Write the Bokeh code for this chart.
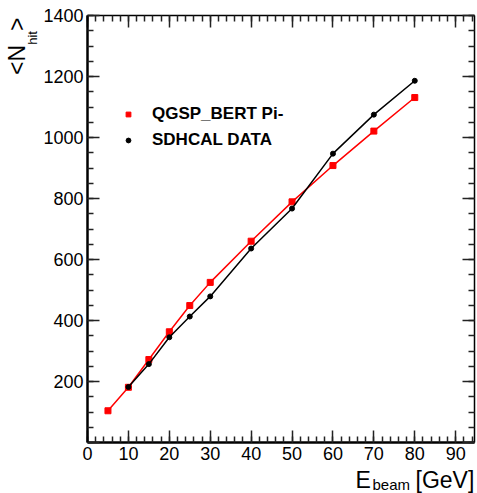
import math
from bokeh.plotting import figure
from bokeh.models import (LinearAxis, SingleIntervalTicker, Range1d, Label,
                          Legend, LegendItem)
from bokeh.embed import file_html
from bokeh.resources import INLINE

# ---- data ----
energy_sim = [5, 10, 15, 20, 25, 30, 40, 50, 60, 70, 80]
nhit_sim = [104, 181, 272, 363, 449, 525, 660, 789, 908, 1021, 1131]
energy_data = [10, 15, 20, 25, 30, 40, 50, 60, 70, 80]
nhit_data = [182, 257, 345, 413, 479, 636, 767, 947, 1075, 1186]
label_sim = "QGSP_BERT Pi-"
label_data = "SDHCAL DATA"
x_lo, x_hi = 0, 94.6
y_lo, y_hi = 0, 1400

FONT = "Liberation Sans"
W, H = 477, 493
# pixel box of the drawing area inside the canvas
BL, BR, BT, BB = 87, 474, 15, 442
sx = (BR - BL) / (x_hi - x_lo)
sy = (BB - BT) / (y_hi - y_lo)
xr = Range1d(x_lo - BL / sx, x_hi + (W - BR) / sx)
yr = Range1d(y_lo - (H - BB) / sy, y_hi + BT / sy)

p = figure(width=W, height=H, output_backend="svg", toolbar_location=None,
           x_range=xr, y_range=yr, x_axis_type=None, y_axis_type=None,
           min_border_left=0, min_border_right=0, min_border_top=0,
           min_border_bottom=0)
p.grid.visible = False
p.outline_line_color = None
p.background_fill_color = "white"
p.border_fill_color = "white"

def make_axis(side, fixed, xaxis, show_labels):
    ax = LinearAxis(fixed_location=fixed,
                    bounds=(x_lo, x_hi) if xaxis else (y_lo, y_hi))
    ax.ticker = SingleIntervalTicker(interval=10, num_minor_ticks=5) if xaxis \
        else SingleIntervalTicker(interval=200, num_minor_ticks=4)
    ax.major_tick_in = 12
    ax.major_tick_out = 0
    ax.minor_tick_in = 6
    ax.minor_tick_out = 0
    ax.major_tick_line_color = "#222222"
    ax.minor_tick_line_color = "#222222"
    ax.major_tick_line_width = 1.5
    ax.minor_tick_line_width = 1.5
    ax.axis_line_color = "black"
    if show_labels:
        ax.axis_line_width = 2.5
        ax.major_label_text_font = FONT
        ax.major_label_text_font_size = "18px"
        ax.major_label_text_color = "black"
        ax.major_label_standoff = 4
    else:
        ax.axis_line_width = 1.5
        ax.major_label_text_font_size = "0px"
        ax.major_label_standoff = 0
        ax.major_label_text_alpha = 0
    p.add_layout(ax, side)
    return ax

make_axis("below", y_lo, True, True)
yax = make_axis("left", x_lo, False, True)
yax.major_label_overrides = {0: ""}
make_axis("above", y_hi, True, False)
make_axis("right", x_hi, False, False)

# ---- data series ----
p.line(energy_sim, nhit_sim, line_color="#ff0000", line_width=1.5)
r_sim = p.scatter(energy_sim, nhit_sim, marker="square", size=6,
                  fill_color="#ff0000", line_color="#ff0000")
p.line(energy_data, nhit_data, line_color="black", line_width=1.5)
r_data = p.scatter(energy_data, nhit_data, marker="circle", size=5,
                   fill_color="black", line_color="black")

legend = Legend(items=[LegendItem(label=label_sim, renderers=[r_sim]),
                       LegendItem(label=label_data, renderers=[r_data])],
                location=(122, H - 150), padding=0, margin=0, spacing=6,
                glyph_width=12, glyph_height=20, label_height=20,
                label_standoff=18, border_line_alpha=0,
                background_fill_alpha=0,
                label_text_font=FONT, label_text_font_style="bold",
                label_text_font_size="17px", label_text_color="black",
                label_text_baseline="middle")
p.add_layout(legend, "center")

# ---- axis titles (with subscripts); screen coords, origin bottom-left ----
def lab(x, y_from_top, text, size, angle=0.0, align="left"):
    p.add_layout(Label(x=x, y=H - y_from_top, x_units="screen",
                       y_units="screen", text=text, angle=angle,
                       text_align=align, text_baseline="alphabetic",
                       text_font=FONT, text_font_size=size,
                       text_color="black"))

# x title: E_beam [GeV]
lab(355, 479, "E", "23px")
lab(372, 484, "beam", "15px")
lab(415, 479, "[GeV]", "23px")

# y title: <N_hit>  rotated, reading upwards (centres along the text)
lab(16.5, 23.7, ">", "23px", math.pi / 2, "center")
lab(31.5, 37.4, "hit", "13px", math.pi / 2, "center")
lab(16.5, 59.5, "<N", "23px", math.pi / 2, "center")

open("out.html", "w").write(file_html(p, INLINE))
